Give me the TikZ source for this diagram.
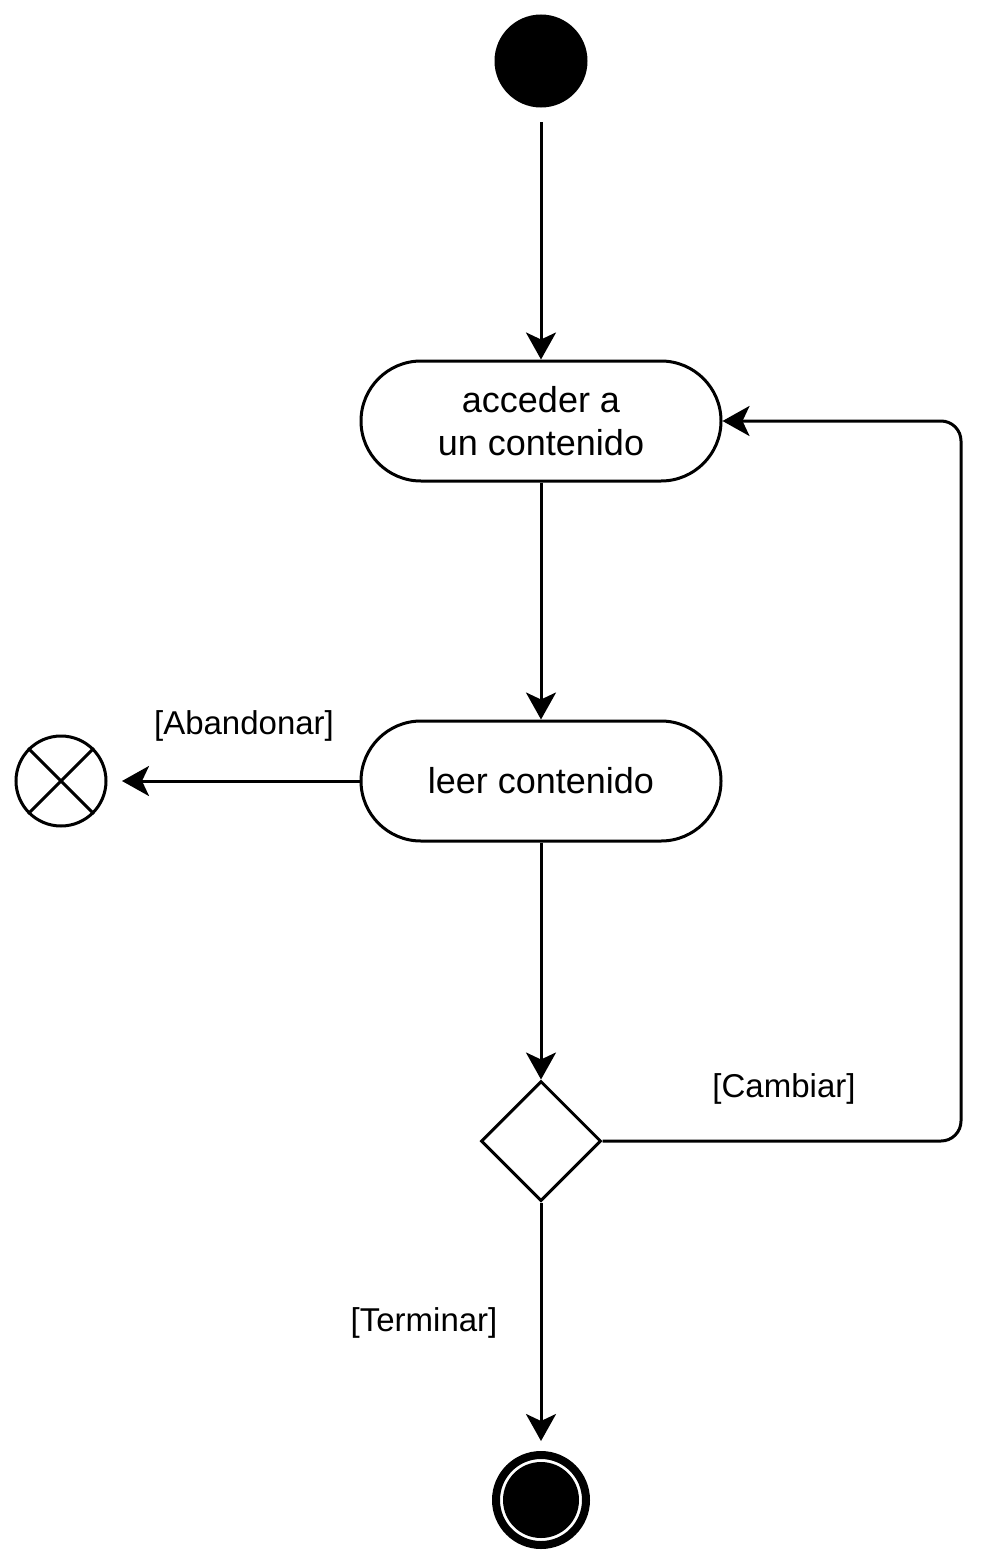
\documentclass[tikz,border=0pt]{standalone}
\usepackage{fontspec}
\setmainfont{Liberation Sans}
\usetikzlibrary{shapes.geometric,arrows.meta}
\begin{document}
\begin{tikzpicture}[x=1pt,y=-1pt,
  line width=3pt,
  act/.style={draw,rounded corners=60pt,minimum width=360pt,minimum height=120pt,align=center,font=\fontsize{36}{43}\selectfont,inner sep=0pt},
  lbl/.style={font=\fontsize{33}{40}\selectfont,inner sep=0pt},
  arr/.style={-{Stealth[length=27pt,width=30pt,inset=7pt]}}]
\useasboundingbox (0,0) rectangle (990,1563);
\node[circle,fill=black,minimum size=93pt,inner sep=0pt] (start) at (541,61) {};
\node[act] (acc) at (541,421) {acceder a\\un contenido};
\node[act] (leer) at (541,781) {leer contenido};
\node[diamond,draw,minimum width=120pt,minimum height=120pt,inner sep=0pt,aspect=1] (dec) at (541,1141) {};
\node[circle,draw,line width=8pt,minimum size=90pt,inner sep=0pt] (fin) at (541,1500) {};
\node[circle,fill=black,minimum size=76pt,inner sep=0pt] (finin) at (541,1500) {};
\node[circle,draw,minimum size=90pt,inner sep=0pt] (ff) at (61,781) {};
\draw (ff.45) -- (ff.225) (ff.135) -- (ff.315);
\coordinate (s1) at (541,122);
\coordinate (f1) at (122,781);
\coordinate (e1) at (541,1441);
\draw[arr] (s1) -- (acc.north);
\draw[arr] (acc.south) -- (leer.north);
\draw[arr] (leer.south) -- (dec.north);
\draw[arr] (leer.west) -- (f1);
\draw[arr] (dec.south) -- (e1);
\draw[arr,rounded corners=20pt] (dec.east) -- (961,1141) -- (961,421) -- (acc.east);
\node[lbl] (la) at (244,726) {[Abandonar]};
\node[lbl] (lc) at (784,1089) {[Cambiar]};
\node[lbl] (lt) at (424,1323) {[Terminar]};
\end{tikzpicture}
\end{document}
